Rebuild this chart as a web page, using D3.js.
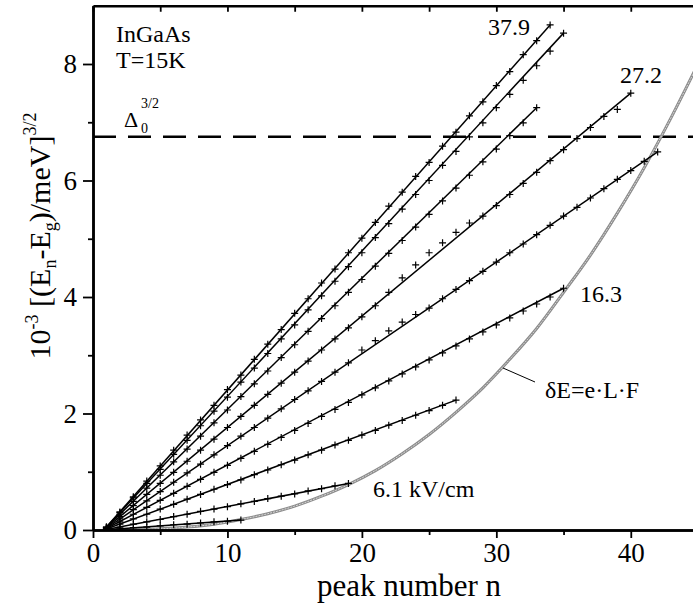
<!DOCTYPE html>
<html lang="en">
  <head>
    <meta charset="UTF-8" />
    <title>InGaAs peak energies</title>
    <script src="https://d3js.org/d3.v7.min.js"></script>
    <style>
      body {
        margin: 0;
        background: #fff;
      }
      svg text {
        font-family: "Liberation Serif", "Times New Roman", serif;
        fill: #000;
      }
    </style>
  </head>
  <body>
    <script>
      // peak values, 10^-3 [(En-Eg)/meV]^3/2, for n = 1, 2, 3, ...
      const seriesA = [0.05, 0.31, 0.57, 0.84, 1.10, 1.37, 1.63, 1.89, 2.14, 2.41, 2.66, 2.93, 3.19, 3.44, 3.72, 3.97, 4.24, 4.48, 4.76, 5.01, 5.28, 5.56, 5.80, 6.07, 6.31, 6.59, 6.83, 7.11, 7.35, 7.63, 7.87, 8.16, 8.40, 8.67];
      const seriesB = [0.05, 0.30, 0.55, 0.80, 1.04, 1.30, 1.54, 1.79, 2.04, 2.28, 2.54, 2.78, 3.03, 3.28, 3.52, 3.78, 4.02, 4.27, 4.52, 4.76, 5.02, 5.26, 5.51, 5.76, 6.00, 6.26, 6.50, 6.75, 6.99, 7.25, 7.48, 7.72, 7.97, 8.22, 8.53];
      const seriesC = [0.04, 0.27, 0.49, 0.72, 0.94, 1.17, 1.39, 1.61, 1.84, 2.06, 2.29, 2.51, 2.73, 2.96, 3.18, 3.41, 3.63, 3.85, 4.08, 4.30, 4.53, 4.75, 4.97, 5.20, 5.42, 5.65, 5.87, 6.09, 6.32, 6.54, 6.77, 6.99, 7.25];
      const seriesD = [0.04, 0.23, 0.42, 0.61, 0.80, 0.99, 1.18, 1.37, 1.56, 1.76, 1.95, 2.14, 2.33, 2.52, 2.71, 2.90, 3.09, 3.28, 3.47, 3.66, 3.85, 4.08, 4.33, 4.55, 4.76, 4.93, 5.11, 5.27, 5.39, 5.57, 5.76, 5.95, 6.14, 6.34, 6.53, 6.72, 6.91, 7.10, 7.22, 7.50];
      const seriesE = [0.03, 0.19, 0.35, 0.50, 0.66, 0.82, 0.98, 1.13, 1.29, 1.45, 1.61, 1.76, 1.92, 2.08, 2.24, 2.39, 2.55, 2.71, 2.87, 3.09, 3.25, 3.42, 3.57, 3.70, 3.81, 3.97, 4.13, 4.28, 4.44, 4.60, 4.76, 4.91, 5.07, 5.23, 5.39, 5.54, 5.70, 5.86, 6.02, 6.17, 6.33, 6.49];
      const seriesF = [0.02, 0.14, 0.27, 0.39, 0.51, 0.63, 0.75, 0.87, 0.99, 1.11, 1.23, 1.35, 1.47, 1.59, 1.71, 1.83, 1.95, 2.07, 2.19, 2.32, 2.44, 2.56, 2.68, 2.80, 2.92, 3.04, 3.16, 3.28, 3.40, 3.52, 3.64, 3.76, 3.88, 4.00, 4.15];
      const seriesG = [0.02, 0.10, 0.19, 0.27, 0.36, 0.44, 0.53, 0.61, 0.70, 0.78, 0.86, 0.95, 1.03, 1.12, 1.20, 1.29, 1.37, 1.46, 1.54, 1.63, 1.71, 1.80, 1.88, 1.97, 2.05, 2.14, 2.23];
      const seriesH = [0.01, 0.05, 0.10, 0.14, 0.18, 0.23, 0.27, 0.32, 0.36, 0.40, 0.45, 0.49, 0.54, 0.58, 0.62, 0.67, 0.71, 0.76, 0.80];
      const seriesI = [0.00, 0.02, 0.04, 0.05, 0.07, 0.09, 0.10, 0.12, 0.14, 0.15, 0.17];

      // fitted lines all start from the same point
      const fitStart = [0.8, 0];

      // dE = e.L.F curve
      const curveN = [1, 3, 5, 7, 9, 11, 13, 15, 17, 19, 21, 23, 25, 27, 29, 31, 33, 35, 37, 39, 41, 43, 45];
      const curveE = [0, 0.005, 0.02, 0.05, 0.1, 0.18, 0.28, 0.41, 0.58, 0.78, 1.02, 1.31, 1.64, 2.02, 2.44, 2.93, 3.46, 4.08, 4.72, 5.44, 6.22, 7.08, 8.0];

      const delta0 = 6.75; // Delta_0^(3/2)

      const xTicks = [0, 10, 20, 30, 40];
      const xMinor = [5, 15, 25, 35, 45];
      const yTicks = [0, 2, 4, 6, 8];
      const yMinor = [1, 3, 5, 7];

      const allSeries = [seriesA, seriesB, seriesC, seriesD, seriesE, seriesF, seriesG, seriesH, seriesI];

      const W = 693, H = 614;
      const svg = d3.select("body").append("svg").attr("width", W).attr("height", H);

      const x = d3.scaleLinear().domain([0, 45]).range([93, 698]);
      const y = d3.scaleLinear().domain([0, 9]).range([530, 5.75]);

      svg.append("clipPath").attr("id", "plot")
        .append("rect").attr("x", 93).attr("y", 5.75).attr("width", 605).attr("height", 524.25);

      const plot = svg.append("g").attr("clip-path", "url(#plot)");

      // dashed Delta_0 line
      plot.append("line")
        .attr("x1", x(0)).attr("x2", x(45))
        .attr("y1", y(delta0)).attr("y2", y(delta0))
        .attr("stroke", "#000").attr("stroke-width", 2.5)
        .attr("stroke-dasharray", "23,12");

      // gray curve
      const curvePts = curveN.map((n, i) => [n, curveE[i]]);
      const curveLine = d3.line().x(d => x(d[0])).y(d => y(d[1])).curve(d3.curveMonotoneX);
      plot.append("path").attr("d", curveLine(curvePts))
        .attr("fill", "none").attr("stroke", "#8c8c8c").attr("stroke-width", 3);
      plot.append("path").attr("d", curveLine(curvePts))
        .attr("fill", "none").attr("stroke", "#d8d8d8").attr("stroke-width", 1)
        .attr("stroke-dasharray", "2,1");

      // fit lines + markers
      allSeries.forEach(vals => {
        const pts = vals.map((v, i) => [i + 1, v]);
        const last = pts[pts.length - 1];
        plot.append("line")
          .attr("x1", x(fitStart[0])).attr("y1", y(fitStart[1]))
          .attr("x2", x(last[0])).attr("y2", y(last[1]))
          .attr("stroke", "#000").attr("stroke-width", 1.5);
        plot.selectAll(null).data(pts).enter().append("path")
          .attr("transform", d => `translate(${x(d[0])},${y(d[1])})`)
          .attr("d", "M-3.5,0H3.5M0,-3.5V3.5")
          .attr("stroke", "#000").attr("stroke-width", 1.2);
      });

      // axes
      svg.append("g").attr("transform", `translate(${x(0)},0)`)
        .call(d3.axisLeft(y).tickValues(yTicks).tickSize(10).tickSizeOuter(0).tickPadding(6).tickFormat(d3.format("d")));
      svg.append("g").attr("transform", `translate(${x(0)},0)`)
        .call(d3.axisLeft(y).tickValues(yMinor).tickSize(5).tickSizeOuter(0).tickFormat(""));
      svg.append("g").attr("transform", `translate(0,${y(0)})`)
        .call(d3.axisBottom(x).tickValues(xTicks).tickSize(8).tickSizeOuter(0).tickPadding(5).tickFormat(d3.format("d")));
      svg.append("g").attr("transform", `translate(0,${y(0)})`)
        .call(d3.axisBottom(x).tickValues(xMinor).tickSize(5).tickSizeOuter(0).tickFormat(""));
      svg.append("g").attr("transform", `translate(0,${y(9)})`)
        .call(d3.axisTop(x).tickValues(xTicks.concat(xMinor)).tickSize(-6).tickSizeOuter(0).tickFormat(""));

      svg.selectAll(".domain").attr("stroke-width", 2.5);
      svg.selectAll(".tick line").attr("stroke-width", 1.8);
      svg.selectAll(".tick text").style("font-size", "27px").style("font-family", '"Liberation Serif", serif');

      // axis titles
      svg.append("text").attr("x", 409).attr("y", 596)
        .attr("text-anchor", "middle").style("font-size", "31px").text("peak number n");

      const yt = svg.append("text")
        .attr("transform", "rotate(-90)")
        .attr("x", -236).attr("y", 50)
        .attr("text-anchor", "middle").style("font-size", "30px");
      yt.append("tspan").text("10");
      yt.append("tspan").attr("dy", -12).style("font-size", "18px").text("-3");
      yt.append("tspan").attr("dy", 12).text(" [(E");
      yt.append("tspan").attr("dy", 6).style("font-size", "18px").text("n");
      yt.append("tspan").attr("dy", -6).text("-E");
      yt.append("tspan").attr("dy", 6).style("font-size", "18px").text("g");
      yt.append("tspan").attr("dy", -6).text(")/meV]");
      yt.append("tspan").attr("dy", -14).style("font-size", "18px").text("3/2");

      // annotations
      const note = (tx, ty, str, size) =>
        svg.append("text").attr("x", tx).attr("y", ty).style("font-size", size + "px").text(str);
      note(116, 42, "InGaAs", 24);
      note(116, 68, "T=15K", 24);
      note(124, 127, "\u0394", 22);
      note(141, 133, "0", 14);
      note(141, 108, "3/2", 14);
      note(488, 35, "37.9", 24);
      note(620, 83, "27.2", 24);
      note(580, 302, "16.3", 24);
      note(373, 497, "6.1 kV/cm", 24);
      note(545, 398, "\u03b4E=e\u00b7L\u00b7F", 24);

      svg.append("line")
        .attr("x1", 503).attr("y1", 368).attr("x2", 535).attr("y2", 382)
        .attr("stroke", "#000").attr("stroke-width", 1);
    </script>
  </body>
</html>
